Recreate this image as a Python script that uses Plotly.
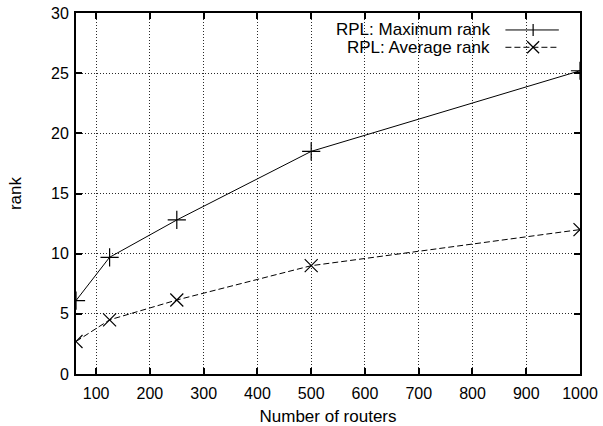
import plotly.graph_objects as go

routers = [62.5, 125, 250, 500, 1000]
max_rank = [6.1, 9.7, 12.8, 18.5, 25.2]
avg_rank = [2.7, 4.5, 6.15, 9.0, 12.0]
x_ticks = [100, 200, 300, 400, 500, 600, 700, 800, 900, 1000]
y_ticks = [0, 5, 10, 15, 20, 25, 30]
series_names = ["RPL: Maximum rank", "RPL: Average rank"]

FONT = "Liberation Sans, Arial, Helvetica, sans-serif"
DASH = "6px,3px"

fig = go.Figure()
fig.add_trace(go.Scatter(
    x=routers, y=max_rank, mode="lines+markers", name=series_names[0],
    line=dict(color="black", width=1),
    marker=dict(symbol="cross-thin", size=13, line=dict(color="black", width=1.2)),
    showlegend=False,
))
fig.add_trace(go.Scatter(
    x=routers, y=avg_rank, mode="lines+markers", name=series_names[1],
    line=dict(color="black", width=1, dash=DASH),
    marker=dict(symbol="x-thin", size=13, line=dict(color="black", width=1.2)),
    showlegend=False,
))

axis_common = dict(
    showline=True, linecolor="black", linewidth=2, mirror="allticks",
    ticks="inside", ticklen=6, tickcolor="black", tickwidth=1.5,
    showgrid=True, gridcolor="#2a2a2a", griddash="1px,2px", gridwidth=1,
    zeroline=False, automargin=False,
    tickfont=dict(family=FONT, size=16, color="black"),
)

fig.update_layout(
    width=603, height=426,
    margin=dict(l=76, r=23, t=13, b=52),
    paper_bgcolor="white", plot_bgcolor="white",
    font=dict(family=FONT, size=16, color="black"),
    xaxis=dict(range=[62.5, 1000], tickvals=x_ticks, ticklabelstandoff=4,
               title=dict(text="Number of routers", font=dict(size=17), standoff=15),
               **axis_common),
    yaxis=dict(range=[0, 30], tickvals=y_ticks, ticklabelstandoff=2,
               title=dict(text="rank", font=dict(size=17), standoff=25),
               **axis_common),
)

# Legend (gnuplot style: text right-aligned, sample to the right)
leg_rows = [(0.953, "solid"), (0.905, DASH)]
xt = 0.826
xl0, xl1, xm = 0.852, 0.958, 0.907
for (yy, dash), name in zip(leg_rows, series_names):
    fig.add_annotation(x=xt, y=yy, xref="paper", yref="paper", text=name,
                       showarrow=False, xanchor="right", yanchor="middle",
                       font=dict(family=FONT, size=17, color="black"))
    fig.add_shape(type="line", xref="paper", yref="paper", x0=xl0, x1=xl1, y0=yy, y1=yy,
                  line=dict(color="black", width=1, dash=dash))
shape_kw = dict(type="line", xref="paper", yref="paper", xsizemode="pixel", ysizemode="pixel",
                line=dict(color="black", width=1.2))
# plus marker
fig.add_shape(xanchor=xm, yanchor=leg_rows[0][0], x0=0, x1=0, y0=-6, y1=6, **shape_kw)
# x marker
fig.add_shape(xanchor=xm, yanchor=leg_rows[1][0], x0=-6, x1=6, y0=-6, y1=6, **shape_kw)
fig.add_shape(xanchor=xm, yanchor=leg_rows[1][0], x0=-6, x1=6, y0=6, y1=-6, **shape_kw)

fig.write_html("out.html", config={"displayModeBar": False},
               post_script="document.body.style.margin='0';")
